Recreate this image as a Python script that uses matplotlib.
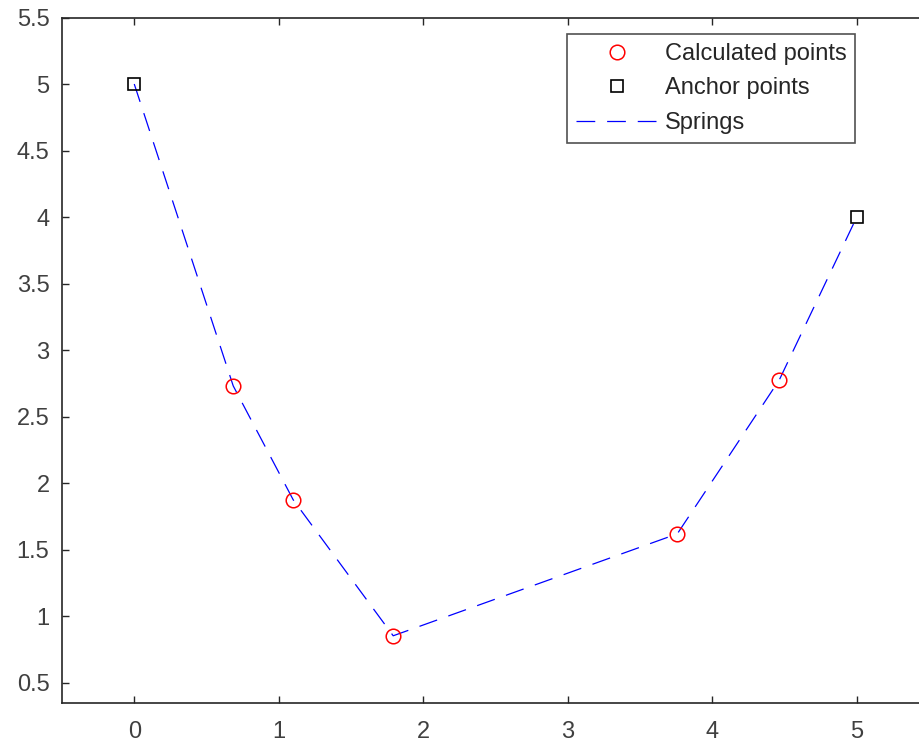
import matplotlib
matplotlib.use("Agg")
import matplotlib.pyplot as plt

calc_x = [0.685, 1.10, 1.792, 3.758, 4.464]
calc_y = [2.731, 1.875, 0.853, 1.619, 2.776]
anchor_x = [0, 5]
anchor_y = [5, 4]
xticks = [0, 1, 2, 3, 4, 5]
yticks = [0.5, 1, 1.5, 2, 2.5, 3, 3.5, 4, 4.5, 5, 5.5]
ytick_labels = ["0.5", "1", "1.5", "2", "2.5", "3", "3.5", "4", "4.5", "5", "5.5"]

plt.rcParams['font.family'] = ['Liberation Sans', 'DejaVu Sans']
fig = plt.figure(figsize=(9.19, 7.44), dpi=100)
W, H = 919, 744
left, right = 62, 62 + 6 * 144.5
top, bottom = 17.5, 702.7
ax = fig.add_axes([left / W, 1 - bottom / H, (right - left) / W, (bottom - top) / H])

spring_x = [anchor_x[0]] + calc_x + [anchor_x[1]]
spring_y = [anchor_y[0]] + calc_y + [anchor_y[1]]
ls, = ax.plot(spring_x, spring_y, color='blue', lw=0.9, dashes=(15, 9.5), zorder=2)
lc, = ax.plot(calc_x, calc_y, 'o', mfc='none', mec='red', ms=10.5, mew=1.1, zorder=3)
la, = ax.plot(anchor_x, anchor_y, 's', mfc='none', mec='black', ms=8, mew=1.2, zorder=3)

ax.set_xlim(-0.5, 5.5)
ax.set_ylim(0.35, 5.5)
ax.set_xticks(xticks)
ax.set_yticks(yticks)
ax.set_yticklabels(ytick_labels)
ax.tick_params(direction='in', length=5, width=1, colors='#262626', labelsize=17,
               top=True, right=True, labelcolor='#404040')
ax.tick_params(axis='y', pad=9)
ax.tick_params(axis='x', pad=13)
for s in ax.spines.values():
    s.set_color('#262626')
    s.set_linewidth(1.2)

leg = ax.legend([lc, la, ls], ['Calculated points', 'Anchor points', 'Springs'],
                loc='upper left', bbox_to_anchor=((567 - left) / (right - left), 1 - (34 - top) / (bottom - top)),
                fontsize=17, frameon=True, fancybox=False, handlelength=3.5,
                handletextpad=0.25, borderpad=0.38, labelspacing=0.53, borderaxespad=0)
leg.get_frame().set_edgecolor('#262626')
leg.get_frame().set_linewidth(1.2)
for t in leg.get_texts():
    t.set_color('#262626')

fig.savefig('out.png', dpi=100)
